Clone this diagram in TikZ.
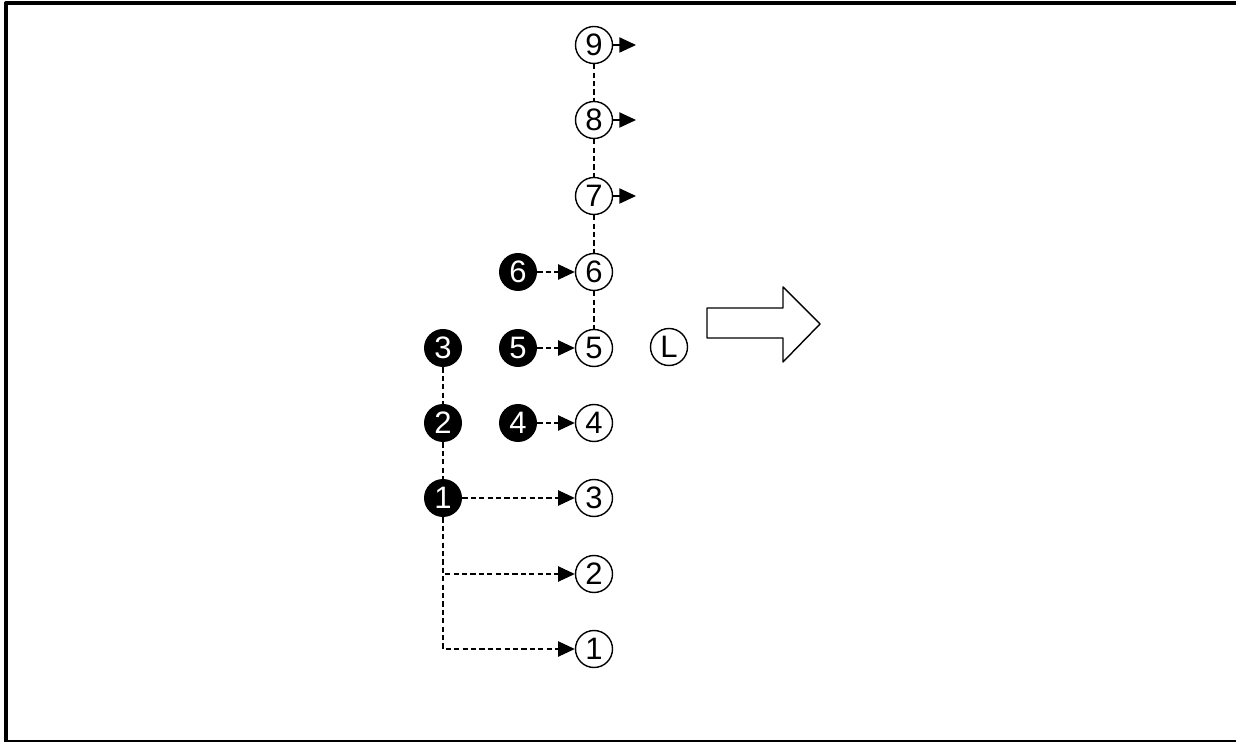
\documentclass[tikz,border=0pt]{standalone}
\usepackage{fontspec}
\setmainfont{Liberation Sans}
\usetikzlibrary{arrows.meta}

\begin{document}
\begin{tikzpicture}[line join=round,x=0.5pt,y=-0.5pt,
    font=\fontsize{15.5}{17}\selectfont,
    wnode/.style={circle,draw,line width=0.7pt,minimum size=18.5pt,inner sep=0pt},
    bnode/.style={circle,fill=black,text=white,minimum size=19pt,inner sep=0pt},
    link/.style={line width=0.65pt,dash pattern=on 2.6pt off 1.6pt},
    tip/.style={-{Triangle[length=8.3pt,width=7.6pt]}}]
\useasboundingbox (0,0) rectangle (1236,742);
\draw [line width=2pt] (6,742) -- (6,3) -- (1236,3);
\draw [line width=0.8pt] (6,741) -- (1236,741);
% right column
\node[wnode] (w9) at (594,45) {9};
\node[wnode] (w8) at (594,120) {8};
\node[wnode] (w7) at (594,196) {7};
\node[wnode] (w6) at (594,272) {6};
\node[wnode] (w5) at (594,348) {5};
\node[wnode] (w4) at (594,423) {4};
\node[wnode] (w3) at (594,498) {3};
\node[wnode] (w2) at (594,574) {2};
\node[wnode] (w1) at (594,649) {1};
% filled ones
\node[bnode] (b6) at (518,272) {6};
\node[bnode] (b5) at (518,348) {5};
\node[bnode] (b4) at (518,423) {4};
\node[bnode] (b3) at (443,348) {3};
\node[bnode] (b2) at (443,423) {2};
\node[bnode] (b1) at (443,498) {1};
\node[wnode] (lim) at (669,347) {L};
\coordinate (s9) at (636,45);
\coordinate (s8) at (636,120);
\coordinate (s7) at (636,196);
\draw [link] (w9) -- (w8);
\draw [link] (w8) -- (w7);
\draw [link] (w7) -- (w6);
\draw [link] (w6) -- (w5);
\draw [link] (b3) -- (b2);
\draw [link] (b2) -- (b1);
\draw [link,tip] (b6) -- (w6);
\draw [link,tip] (b5) -- (w5);
\draw [link,tip] (b4) -- (w4);
\draw [link,tip] (b1) -- (w3);
\draw [link,tip] (b1) |- (w2);
\draw [link,tip] (b1) |- (w1);
\draw [line width=0.6pt,tip] (w9) -- (s9);
\draw [line width=0.6pt,tip] (w8) -- (s8);
\draw [line width=0.6pt,tip] (w7) -- (s7);
\draw [line width=0.7pt] (707,308) -- (783,308) -- (783,287) -- (820,324)
    -- (783,362) -- (783,338) -- (707,338) -- cycle;
\end{tikzpicture}
\end{document}
